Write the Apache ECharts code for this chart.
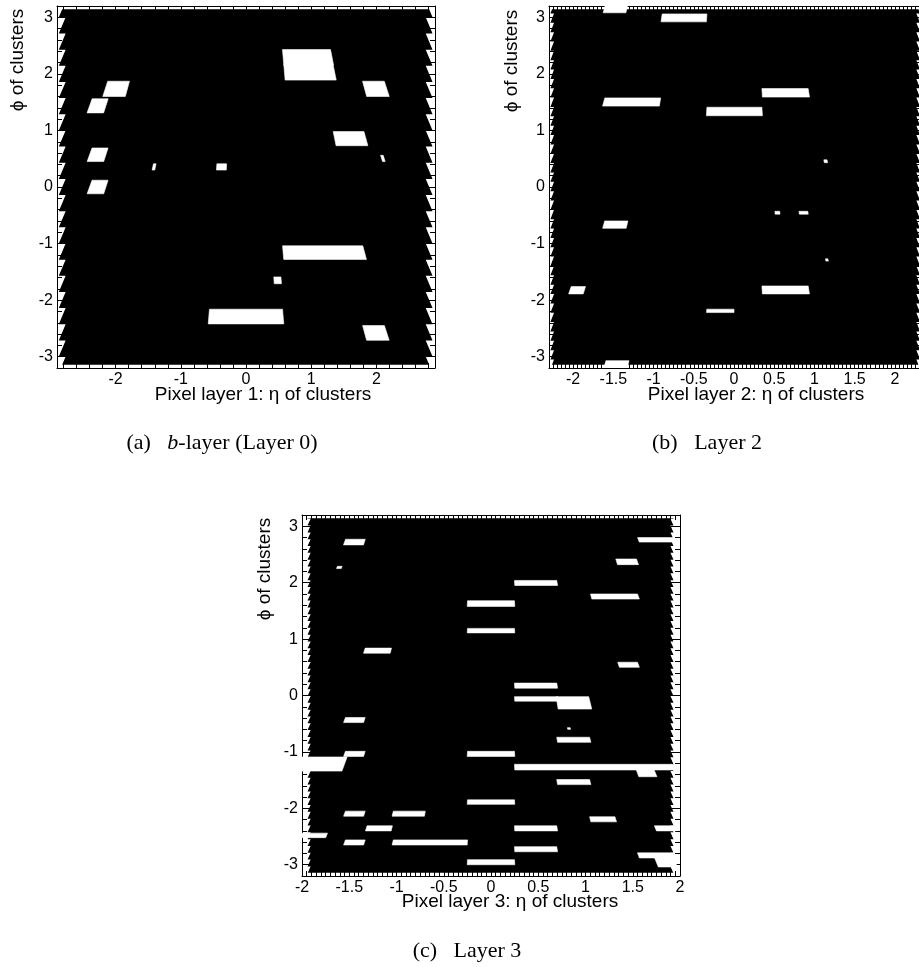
<!DOCTYPE html>
<html><head><meta charset="utf-8">
<script src="https://cdn.jsdelivr.net/npm/echarts@6/dist/echarts.min.js"></script>
<style>html,body{margin:0;padding:0;background:#fff}#c{width:919px;height:967px}</style>
</head><body><div id="c"></div>
<script>
// ---------- DATA ----------
// Active (black) acceptance region per layer: [etaMin, etaMax, phiMin, phiMax]
const aActive = [[-2.82, 2.81, -Math.PI, Math.PI]];
const bActive = [[-2.26, 2.29, -Math.PI, Math.PI]];
const cActive = [[-1.925, 1.915, -Math.PI, Math.PI]];

// Dead (empty) modules: [etaMin, etaMax, phiMin, phiMax]
const aDead = [
  [0.57, 1.32, 2.155, 2.43], [0.59, 1.36, 1.89, 2.165],
  [-2.40, -2.15, 1.31, 1.56], [-2.16, -1.82, 1.60, 1.87],
  [-2.40, -2.15, 0.45, 0.69], [-2.40, -2.15, -0.12, 0.12],
  [-1.43, -1.39, 0.30, 0.41], [-0.45, -0.30, 0.30, 0.41],
  [1.82, 2.16, 1.60, 1.87], [1.36, 1.84, 0.73, 0.98],
  [2.08, 2.12, 0.45, 0.56], [0.57, 1.82, -1.28, -1.04],
  [0.43, 0.54, -1.71, -1.59], [-0.57, 0.57, -2.42, -2.16],
  [1.82, 2.16, -2.71, -2.45]
];
const bDead = [
  [-1.61, -1.33, 3.08, 3.25], [-1.61, -1.32, -3.25, -3.07],
  [-0.90, -0.34, 2.92, 3.06], [-1.62, -0.92, 1.43, 1.575],
  [-0.34, 0.35, 1.26, 1.41], [0.35, 0.93, 1.59, 1.74],
  [1.12, 1.16, 0.43, 0.48], [0.51, 0.57, -0.48, -0.43],
  [0.81, 0.92, -0.48, -0.43], [-1.62, -1.33, -0.73, -0.60],
  [1.14, 1.17, -1.31, -1.27], [-2.04, -1.86, -1.89, -1.76],
  [0.35, 0.93, -1.89, -1.75], [-0.34, 0.0, -2.22, -2.16]
];
const cDead = [
  [-1.55, -1.34, 2.67, 2.77], [-1.63, -1.58, 2.25, 2.29],
  [1.56, 1.95, 2.72, 2.80], [1.33, 1.55, 2.32, 2.42],
  [0.25, 0.70, 1.95, 2.04], [1.06, 1.56, 1.71, 1.80],
  [-0.25, 0.25, 1.58, 1.68], [-0.25, 0.25, 1.11, 1.19],
  [-1.34, -1.06, 0.75, 0.84], [1.35, 1.56, 0.50, 0.59],
  [0.25, 0.70, 0.13, 0.22], [0.25, 0.71, -0.10, -0.02],
  [0.70, 1.05, -0.24, -0.02], [0.81, 0.84, -0.60, -0.57],
  [-1.55, -1.34, -0.48, -0.39], [0.70, 1.05, -0.83, -0.74],
  [-1.55, -1.34, -1.08, -0.99], [-2.05, -1.55, -1.34, -1.09],
  [-0.25, 0.25, -1.08, -0.99], [0.25, 1.93, -1.32, -1.22],
  [1.55, 1.74, -1.44, -1.31], [0.70, 1.05, -1.58, -1.49],
  [-0.25, 0.25, -1.93, -1.85], [-1.55, -1.34, -2.14, -2.05],
  [-1.04, -0.70, -2.14, -2.05], [1.05, 1.32, -2.24, -2.15],
  [-1.32, -1.05, -2.40, -2.31], [0.25, 0.70, -2.40, -2.31],
  [1.74, 1.95, -2.40, -2.31], [-2.05, -1.74, -2.52, -2.44],
  [-1.55, -1.34, -2.65, -2.56], [-1.04, -0.25, -2.65, -2.56],
  [0.25, 0.70, -2.77, -2.68], [1.56, 1.95, -2.88, -2.79],
  [1.75, 1.95, -3.04, -2.87], [-0.25, 0.25, -3.00, -2.91]
];

// Tick labels
const aXTicks = [-2, -1, 0, 1, 2];
const bXTicks = [-2, -1.5, -1, -0.5, 0, 0.5, 1, 1.5, 2];
const cXTicks = [-2, -1.5, -1, -0.5, 0, 0.5, 1, 1.5, 2];
const phiTicks = [-3, -2, -1, 0, 1, 2, 3];

// Titles
const xTitles = ['Pixel layer 1: \u03b7 of clusters', 'Pixel layer 2: \u03b7 of clusters', 'Pixel layer 3: \u03b7 of clusters'];
const yTitle = '\u03d5 of clusters';
const captions = ['(a)   {i|b}-layer (Layer 0)', '(b)   Layer 2', '(c)   Layer 3'];

// ---------- LAYOUT / STYLE ----------
// module geometry used only to shape the drawn cells (stave count, phase, tilt)
const geom = [
  {staves: 22, phase: -0.142, tilt: 0.13},
  {staves: 38, phase: 0.092, tilt: 0.12},
  {staves: 52, phase: 0.112, tilt: 0.14}
];
const grids = [
  {left: 57, top: 6, width: 378, height: 362},
  {left: 549, top: 6, width: 374, height: 362},
  {left: 302, top: 515, width: 378, height: 361}
];
const xRanges = [[-2.9, 2.9], [-2.3, 2.3], [-2, 2]];
const yRange = [-3.2, 3.2];
const xMinorStep = [0.2, 0.05, 0.05];
const yMinorStep = 0.2;
const FONT = '"Liberation Sans", Arial, Helvetica, sans-serif';
const SERIF = '"Liberation Serif", "Times New Roman", serif';

function steps(min, max, st) {
  const out = [];
  const n0 = Math.ceil(min / st - 1e-9), n1 = Math.floor(max / st + 1e-9);
  for (let n = n0; n <= n1; n++) out.push(+(n * st).toFixed(4));
  return out;
}

function acceptItem(g) {
  return function (params, api) {
    const eL = api.value(0), eR = api.value(1), pB = api.value(2), pT = api.value(3);
    const w = 2 * Math.PI / g.staves;
    const k0 = Math.floor((pB - g.phase) / w);
    const left = [], right = [];
    for (let k = k0; g.phase + k * w < pT; k++) {
      const lo = Math.max(pB, g.phase + k * w), hi = Math.min(pT, g.phase + (k + 1) * w);
      const c = g.phase + (k + 0.5) * w;
      const f = p => 1 - g.tilt * (p - c);
      left.push([eL * f(lo), lo], [eL * f(hi), hi]);
      right.push([eR * f(lo), lo], [eR * f(hi), hi]);
    }
    const pts = left.concat(right.reverse()).map(d => api.coord(d));
    return {type: 'polygon', shape: {points: pts}, style: {fill: '#000'}};
  };
}
function deadItem(g) {
  return function (params, api) {
    const e1 = api.value(0), e2 = api.value(1), p1 = api.value(2), p2 = api.value(3);
    const c = (p1 + p2) / 2;
    const f = p => 1 - g.tilt * (p - c);
    const pts = [[e1 * f(p2), p2], [e2 * f(p2), p2], [e2 * f(p1), p1], [e1 * f(p1), p1]].map(d => api.coord(d));
    return {type: 'polygon', shape: {points: pts}, style: {fill: '#fff', stroke: '#fff', lineWidth: 0.6}};
  };
}

const xAxes = [], yAxes = [], series = [];
const majorX = [aXTicks, bXTicks, cXTicks];
const actives = [aActive, bActive, cActive];
const deads = [aDead, bDead, cDead];
const lineStyle = {color: '#000', width: 1};
const labelStyle = {color: '#000', fontFamily: FONT, fontSize: 16};

for (let i = 0; i < 3; i++) {
  const [xmin, xmax] = xRanges[i];
  const minorX = steps(xmin, xmax, xMinorStep[i]);
  const minorY = steps(yRange[0], yRange[1], yMinorStep);
  const base = {type: 'value', gridIndex: i, min: xmin, max: xmax, splitLine: {show: false}};
  xAxes.push(Object.assign({}, base, {
    position: 'bottom', axisLine: {show: true, onZero: false, lineStyle},
    axisTick: {show: true, inside: true, length: 9, customValues: majorX[i], lineStyle},
    axisLabel: Object.assign({show: true, customValues: majorX[i], margin: 4, formatter: v => String(v)}, labelStyle)
  }));
  xAxes.push(Object.assign({}, base, {
    position: 'bottom', axisLine: {show: false, onZero: false},
    axisTick: {show: true, inside: true, length: 5, customValues: minorX, lineStyle},
    axisLabel: {show: false}
  }));
  xAxes.push(Object.assign({}, base, {
    position: 'top', axisLine: {show: true, onZero: false, lineStyle},
    axisTick: {show: true, inside: true, length: 9, customValues: majorX[i], lineStyle},
    axisLabel: {show: false}
  }));
  xAxes.push(Object.assign({}, base, {
    position: 'top', axisLine: {show: false, onZero: false},
    axisTick: {show: true, inside: true, length: 5, customValues: minorX, lineStyle},
    axisLabel: {show: false}
  }));
  const ybase = {type: 'value', gridIndex: i, min: yRange[0], max: yRange[1], splitLine: {show: false}};
  yAxes.push(Object.assign({}, ybase, {
    position: 'left', axisLine: {show: true, onZero: false, lineStyle},
    axisTick: {show: true, inside: true, length: 9, customValues: phiTicks, lineStyle},
    axisLabel: Object.assign({show: true, customValues: phiTicks, margin: 4, formatter: v => String(v)}, labelStyle)
  }));
  yAxes.push(Object.assign({}, ybase, {
    position: 'left', axisLine: {show: false, onZero: false},
    axisTick: {show: true, inside: true, length: 5, customValues: minorY, lineStyle},
    axisLabel: {show: false}
  }));
  yAxes.push(Object.assign({}, ybase, {
    position: 'right', axisLine: {show: true, onZero: false, lineStyle},
    axisTick: {show: true, inside: true, length: 9, customValues: phiTicks, lineStyle},
    axisLabel: {show: false}
  }));
  yAxes.push(Object.assign({}, ybase, {
    position: 'right', axisLine: {show: false, onZero: false},
    axisTick: {show: true, inside: true, length: 5, customValues: minorY, lineStyle},
    axisLabel: {show: false}
  }));

  series.push({
    type: 'custom', name: 'active' + i, xAxisIndex: 4 * i, yAxisIndex: 4 * i, clip: true, z: 1,
    silent: true, animation: false, encode: {x: [0, 1], y: [2, 3]},
    renderItem: acceptItem(geom[i]), data: actives[i]
  });
  series.push({
    type: 'custom', name: 'dead' + i, xAxisIndex: 4 * i, yAxisIndex: 4 * i, clip: true, z: 2,
    silent: true, animation: false, encode: {x: [0, 1], y: [2, 3]},
    renderItem: deadItem(geom[i]), data: deads[i]
  });
}

const titleStyle = {font: '19px ' + FONT, fill: '#000', textAlign: 'center', textVerticalAlign: 'middle'};
const graphic = [
  {type: 'text', x: 263, y: 395, style: Object.assign({text: xTitles[0]}, titleStyle)},
  {type: 'text', x: 756, y: 395, style: Object.assign({text: xTitles[1]}, titleStyle)},
  {type: 'text', x: 510, y: 902, style: Object.assign({text: xTitles[2]}, titleStyle)},
  {type: 'text', x: 18, y: 60, rotation: Math.PI / 2, style: Object.assign({text: yTitle}, titleStyle)},
  {type: 'text', x: 512, y: 61, rotation: Math.PI / 2, style: Object.assign({text: yTitle}, titleStyle)},
  {type: 'text', x: 265, y: 569, rotation: Math.PI / 2, style: Object.assign({text: yTitle}, titleStyle)}
];
const capStyle = {fontFamily: SERIF, fontSize: 22, fill: '#000',
  align: 'center', verticalAlign: 'middle', rich: {i: {fontStyle: 'italic', fontFamily: SERIF, fontSize: 22}}};
graphic.push({type: 'text', x: 222, y: 443, style: Object.assign({text: captions[0]}, capStyle)});
graphic.push({type: 'text', x: 707, y: 443, style: Object.assign({text: captions[1]}, capStyle)});
graphic.push({type: 'text', x: 467, y: 951, style: Object.assign({text: captions[2]}, capStyle)});

const chart = echarts.init(document.getElementById('c'), null, {renderer: 'canvas'});
chart.setOption({
  animation: false,
  backgroundColor: '#fff',
  grid: grids.map(g => Object.assign({containLabel: false}, g)),
  xAxis: xAxes,
  yAxis: yAxes,
  series: series,
  graphic: graphic
});
</script>
</body></html>
